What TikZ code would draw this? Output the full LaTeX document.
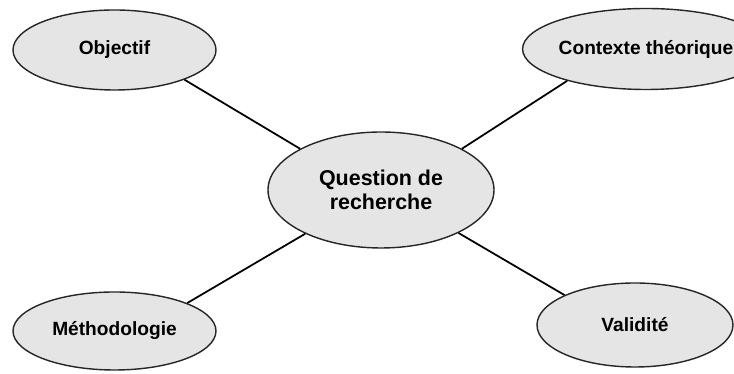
\documentclass[tikz,border=0pt]{standalone}
\usepackage{fontspec}
\setmainfont{Liberation Sans}
\usepackage{tikz}
\usetikzlibrary{shapes.geometric}

\tikzset{
  bulle/.style={ellipse, draw=black!85, line width=0.8pt, fill=black!10,
    inner sep=0pt, font=\bfseries\fontsize{10.9}{13}\selectfont, align=center},
  lien/.style={line width=1pt}
}

\begin{document}
\begin{tikzpicture}
			\useasboundingbox (0,0) rectangle (14.68,7.48);
			% centre
			\node[bulle, minimum width=4.52cm, minimum height=2.32cm,
			  font=\bfseries\fontsize{12.2}{13.6}\selectfont] (Q) at (7.62,3.68) {Question de\\recherche};
			% branches
			\node[bulle, minimum width=4.06cm, minimum height=1.6cm] (Obj) at (2.29,6.48) {Objectif};
			\node[bulle, minimum width=4.04cm, minimum height=1.62cm] (Ctx) at (12.92,6.5) {Contexte théorique};
			\node[bulle, minimum width=4.06cm, minimum height=1.56cm] (Meth) at (2.29,0.86) {Méthodologie};
			\node[bulle, minimum width=3.92cm, minimum height=1.68cm] (Val) at (12.7,0.98) {Validité};
			% liens
			\draw[lien] (Obj.-23) -- (Q.153);
			\draw[lien] (Ctx.202) -- (Q.27);
			\draw[lien] (Meth.21) -- (Q.210);
			\draw[lien] (Val.157) -- (Q.-29);
		\end{tikzpicture}
\end{document}
